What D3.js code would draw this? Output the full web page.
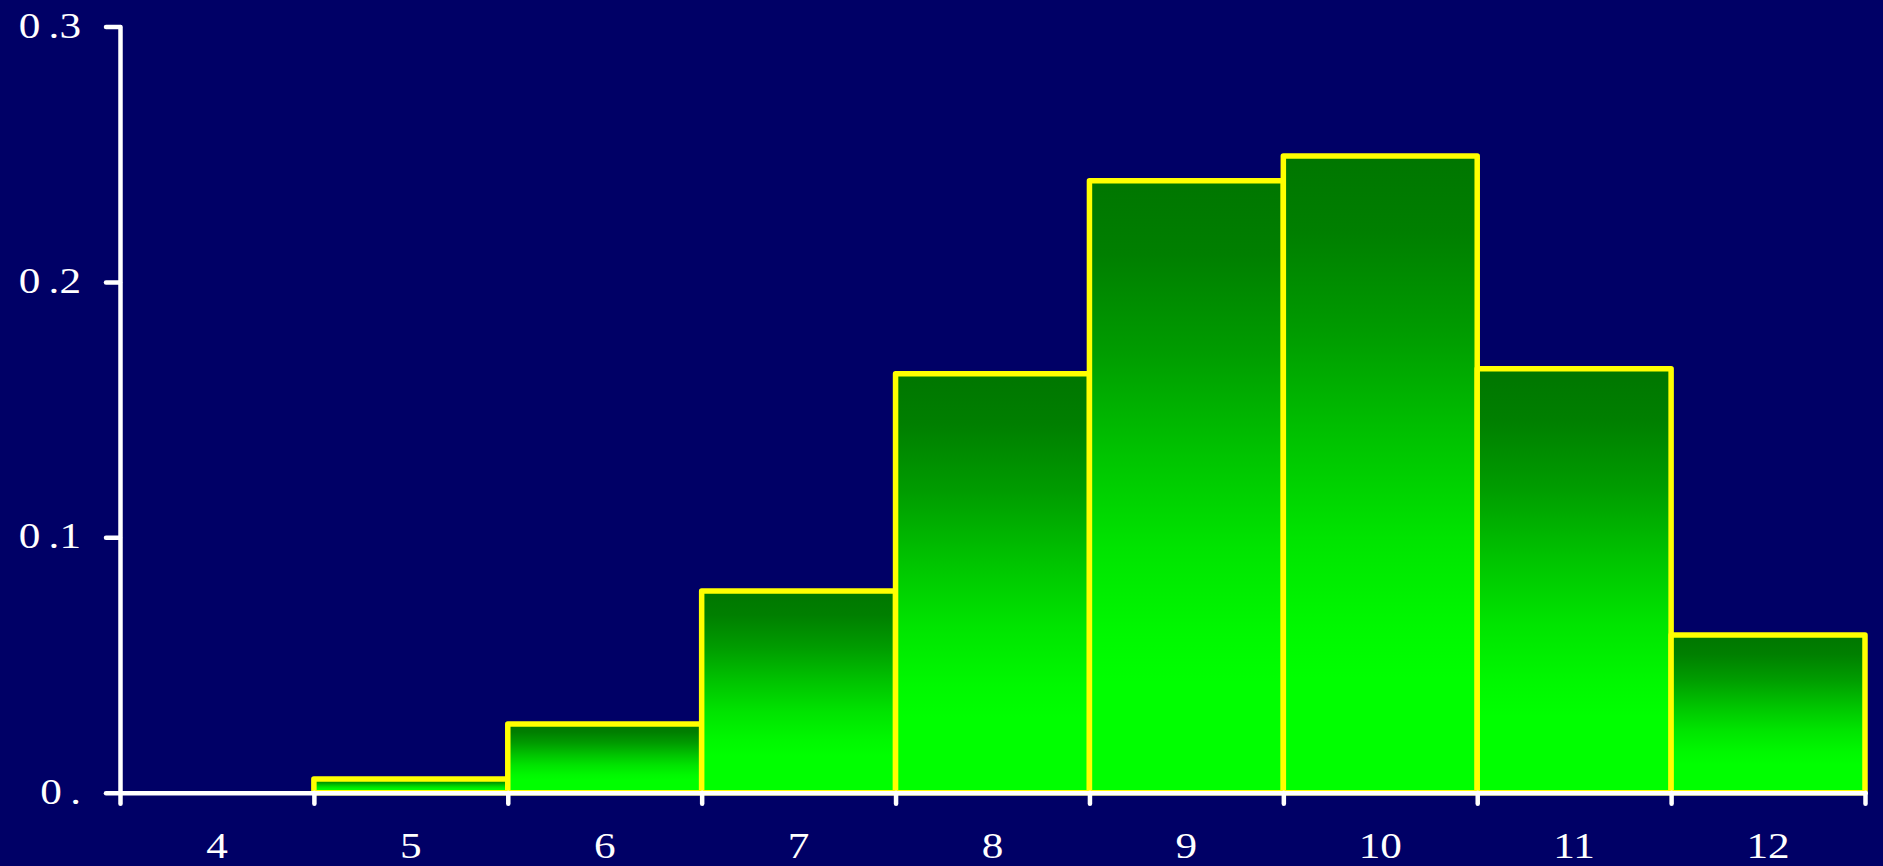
<!DOCTYPE html>
<html>
<head>
<meta charset="utf-8">
<script src="https://cdn.jsdelivr.net/npm/d3@7"></script>
<style>
  html, body { margin: 0; padding: 0; background: #000066; overflow: hidden; }
  text { font-family: "Liberation Serif", "Times New Roman", serif; fill: #ffffff; }
</style>
</head>
<body>
<svg id="chart" width="1883" height="866"></svg>
<script>
// Histogram data: one bin per integer outcome, value = relative frequency
const bins = [4, 5, 6, 7, 8, 9, 10, 11, 12];
const freqs = [0, 0.0054, 0.0269, 0.079, 0.164, 0.2396, 0.2493, 0.166, 0.0617];
const xTickLabels = ["4", "5", "6", "7", "8", "9", "10", "11", "12"];
const yTicks = [0, 0.1, 0.2, 0.3];
const yTickLabels = ["0.", "0.1", "0.2", "0.3"];

const W = 1883, H = 866;
const svg = d3.select("#chart");

svg.append("rect").attr("width", W).attr("height", H).attr("fill", "#000066");

// Scales: bins are centred on integers, edges at half-integers
const x = d3.scaleLinear()
  .domain([bins[0] - 0.5, bins[bins.length - 1] + 0.5])
  .range([120, 1865]);
const y = d3.scaleLinear().domain([0, 0.3]).range([792.7, 26.5]);

// Vertical green gradient, dark at the top of each bar, bright at the base
const defs = svg.append("defs");
const grad = defs.append("linearGradient")
  .attr("id", "barFill")
  .attr("x1", 0).attr("y1", 0).attr("x2", 0).attr("y2", 1);
[
  [0.00, "#007600"],
  [0.12, "#007f00"],
  [0.28, "#009c00"],
  [0.45, "#00c400"],
  [0.60, "#00e400"],
  [0.74, "#00f800"],
  [0.82, "#00ff00"],
  [1.00, "#00ff00"]
].forEach(([o, c]) => grad.append("stop").attr("offset", o).attr("stop-color", c));

const data = bins.map((b, i) => ({ bin: b, value: freqs[i] })).filter(d => d.value > 0);

svg.append("g").selectAll("rect")
  .data(data)
  .join("rect")
  .attr("x", d => x(d.bin - 0.5))
  .attr("width", d => x(d.bin + 0.5) - x(d.bin - 0.5))
  .attr("y", d => y(d.value))
  .attr("height", d => y(0) - y(d.value))
  .attr("fill", "url(#barFill)")
  .attr("stroke", "#ffff00")
  .attr("stroke-width", 5.5)
  .attr("stroke-linejoin", "round");

// X axis: ticks on bin edges, labels under bin centres
const edges = bins.map(b => b - 0.5).concat([bins[bins.length - 1] + 0.5]);
const xAxis = svg.append("g")
  .attr("transform", `translate(0,${y(0)})`)
  .call(d3.axisBottom(x).tickValues(edges).tickFormat("").tickSizeInner(11).tickSizeOuter(0));

svg.append("g").selectAll("text")
  .data(bins)
  .join("text")
  .attr("transform", (d) => `translate(${x(d)},${y(0) + 65}) scale(1.2,1)`)
  .attr("text-anchor", "middle")
  .attr("font-size", 36)
  .text((d, i) => xTickLabels[i]);

// Y axis
const yAxis = svg.append("g")
  .attr("transform", `translate(${x(bins[0] - 0.5)},0)`)
  .call(d3.axisLeft(y).tickValues(yTicks).tickFormat("").tickSizeInner(14).tickSizeOuter(0));

const yLab = svg.append("g").selectAll("text")
  .data(yTicks)
  .join("text")
  .attr("transform", d => `translate(81,${y(d) + 11}) scale(1.2,1)`)
  .attr("text-anchor", "end")
  .attr("font-size", 36);
yLab.each(function (d, i) {
  const s = yTickLabels[i];
  const t = d3.select(this);
  t.append("tspan").text(s.slice(0, 1));
  t.append("tspan").attr("dx", 7).text(s.slice(1));
});

[xAxis, yAxis].forEach(g => {
  g.selectAll("path.domain")
    .attr("stroke", "#ffffff")
    .attr("stroke-width", 4.5)
    .attr("stroke-linecap", "round");
  g.selectAll(".tick line")
    .attr("stroke", "#ffffff")
    .attr("stroke-width", 4.5)
    .attr("stroke-linecap", "round");
});
</script>
</body>
</html>
